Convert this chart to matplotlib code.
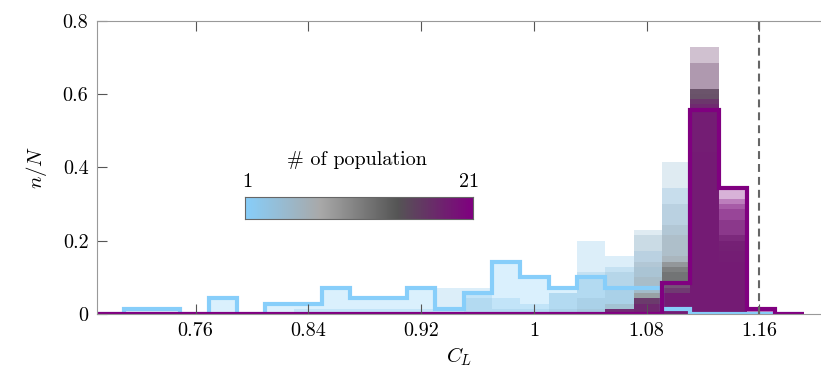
import numpy as np
import matplotlib.pyplot as plt
from matplotlib.colors import LinearSegmentedColormap

plt.rcParams['font.family'] = 'serif'
plt.rcParams['font.serif'] = ['cmr10']
plt.rcParams['mathtext.fontset'] = 'cm'
plt.rcParams['axes.formatter.use_mathtext'] = True

# histogram bins shared by all populations (C_L)
bin_lo = 0.6889
bin_width = 0.0201
n_bins = 25
n_samples = 70

# counts per bin for each population, 1 ... 21
counts = [
    [0, 1, 1, 0, 3, 0, 2, 2, 5, 3, 3, 5, 1, 4, 10, 7, 5, 7, 5, 5, 1, 0, 0, 0, 0],
    [0, 0, 0, 0, 0, 0, 0, 1, 1, 1, 1, 1, 5, 5, 3, 2, 4, 14, 11, 9, 8, 4, 0, 0, 0],
    [0, 0, 0, 0, 0, 0, 0, 0, 0, 0, 0, 0, 0, 3, 1, 1, 4, 8, 9, 12, 24, 6, 2, 0, 0],
    [0, 0, 0, 0, 0, 0, 0, 0, 0, 0, 0, 0, 0, 0, 0, 0, 1, 3, 8, 16, 29, 10, 3, 0, 0],
    [0, 0, 0, 0, 0, 0, 0, 0, 0, 0, 0, 0, 0, 0, 0, 0, 0, 1, 2, 15, 21, 24, 7, 0, 0],
    [0, 0, 0, 0, 0, 0, 0, 0, 0, 0, 0, 0, 0, 0, 0, 0, 0, 0, 2, 10, 17, 31, 10, 0, 0],
    [0, 0, 0, 0, 0, 0, 0, 0, 0, 0, 0, 0, 0, 0, 0, 0, 0, 0, 0, 7, 15, 36, 12, 0, 0],
    [0, 0, 0, 0, 0, 0, 0, 0, 0, 0, 0, 0, 0, 0, 0, 0, 0, 0, 0, 4, 11, 40, 15, 0, 0],
    [0, 0, 0, 0, 0, 0, 0, 0, 0, 0, 0, 0, 0, 0, 0, 0, 0, 0, 0, 4, 10, 42, 14, 0, 0],
    [0, 0, 0, 0, 0, 0, 0, 0, 0, 0, 0, 0, 0, 0, 0, 0, 0, 0, 0, 4, 10, 43, 13, 0, 0],
    [0, 0, 0, 0, 0, 0, 0, 0, 0, 0, 0, 0, 0, 0, 0, 0, 0, 0, 0, 3, 10, 43, 14, 0, 0],
    [0, 0, 0, 0, 0, 0, 0, 0, 0, 0, 0, 0, 0, 0, 0, 0, 0, 0, 0, 3, 9, 43, 15, 0, 0],
    [0, 0, 0, 0, 0, 0, 0, 0, 0, 0, 0, 0, 0, 0, 0, 0, 0, 0, 1, 3, 9, 43, 14, 0, 0],
    [0, 0, 0, 0, 0, 0, 0, 0, 0, 0, 0, 0, 0, 0, 0, 0, 0, 0, 1, 3, 8, 43, 15, 0, 0],
    [0, 0, 0, 0, 0, 0, 0, 0, 0, 0, 0, 0, 0, 0, 0, 0, 0, 0, 1, 3, 5, 43, 18, 0, 0],
    [0, 0, 0, 0, 0, 0, 0, 0, 0, 0, 0, 0, 0, 0, 0, 0, 0, 0, 1, 3, 4, 48, 14, 0, 0],
    [0, 0, 0, 0, 0, 0, 0, 0, 0, 0, 0, 0, 0, 0, 0, 0, 0, 0, 1, 2, 4, 51, 12, 0, 0],
    [0, 0, 0, 0, 0, 0, 0, 0, 0, 0, 0, 0, 0, 0, 0, 0, 0, 0, 1, 3, 5, 41, 20, 0, 0],
    [0, 0, 0, 0, 0, 0, 0, 0, 0, 0, 0, 0, 0, 0, 0, 0, 0, 0, 1, 3, 4, 41, 21, 0, 0],
    [0, 0, 0, 0, 0, 0, 0, 0, 0, 0, 0, 0, 0, 0, 0, 0, 0, 0, 1, 2, 4, 40, 22, 1, 0],
    [0, 0, 0, 0, 0, 0, 0, 0, 0, 0, 0, 0, 0, 0, 0, 0, 0, 0, 0, 0, 6, 39, 24, 1, 0],
]

x_ticks = [0.76, 0.84, 0.92, 1.0, 1.08, 1.16]
x_tick_labels = ['0.76', '0.84', '0.92', '1', '1.08', '1.16']
y_ticks = [0, 0.2, 0.4, 0.6, 0.8]
y_tick_labels = ['0', '0.2', '0.4', '0.6', '0.8']
target_cl = 1.16

cmap = LinearSegmentedColormap.from_list(
    'pop', [(0.0, '#87CEFA'), (0.33, '#A9A9A9'), (0.67, '#555555'), (1.0, '#800080')])

fig = plt.figure(figsize=(8.21, 3.76), dpi=100)
ax = fig.add_axes([0.1178, 0.1649, 0.8817, 0.7801])

edges = bin_lo + bin_width * np.arange(n_bins + 1)
n_pop = len(counts)
for i, c in enumerate(counts):
    frac = np.array(c) / n_samples
    ax.stairs(frac, edges, fill=True, color=cmap(i / (n_pop - 1)), alpha=0.3, lw=0)

ax.stairs(np.array(counts[0]) / n_samples, edges, color='#87CEFA', lw=3)
ax.stairs(np.array(counts[-1]) / n_samples, edges, color='#800080', lw=3)

ax.axvline(target_cl, color='#666666', lw=1.5, dashes=(3.8, 2.4), zorder=5)

ax.set_xlim(0.6898, 1.2034)
ax.set_ylim(0, 0.8)
ax.set_xticks(x_ticks)
ax.set_xticklabels(x_tick_labels)
ax.set_yticks(y_ticks)
ax.set_yticklabels(y_tick_labels)
ax.tick_params(direction='in', length=7, width=0.8, color='#555555',
               labelsize=14.5, top=True, pad=6)
for s in ['left', 'top', 'bottom']:
    ax.spines[s].set_color('#999999')
    ax.spines[s].set_linewidth(0.8)
ax.spines['right'].set_visible(False)
ax.set_xlabel('$C_L$', fontsize=15)
ax.set_ylabel('$n/N$', fontsize=15, labelpad=10)

cax = fig.add_axes([0.2984, 0.4176, 0.2777, 0.0593])
cax.imshow(np.linspace(0, 1, 256)[None, :], aspect='auto', cmap=cmap,
           extent=[1, n_pop, 0, 1])
cax.set_xticks([])
cax.set_yticks([])
for s in cax.spines.values():
    s.set_color('#666666')
    s.set_linewidth(0.8)
cax.text(0.01, 1.43, '1', transform=cax.transAxes, ha='center', va='baseline', fontsize=14.5)
cax.text(0.982, 1.43, str(n_pop), transform=cax.transAxes, ha='center', va='baseline', fontsize=14.5)
cax.text(0.49, 2.43, '# of population', transform=cax.transAxes, ha='center', va='baseline', fontsize=14.5)

fig.savefig('out.png', dpi=100)
